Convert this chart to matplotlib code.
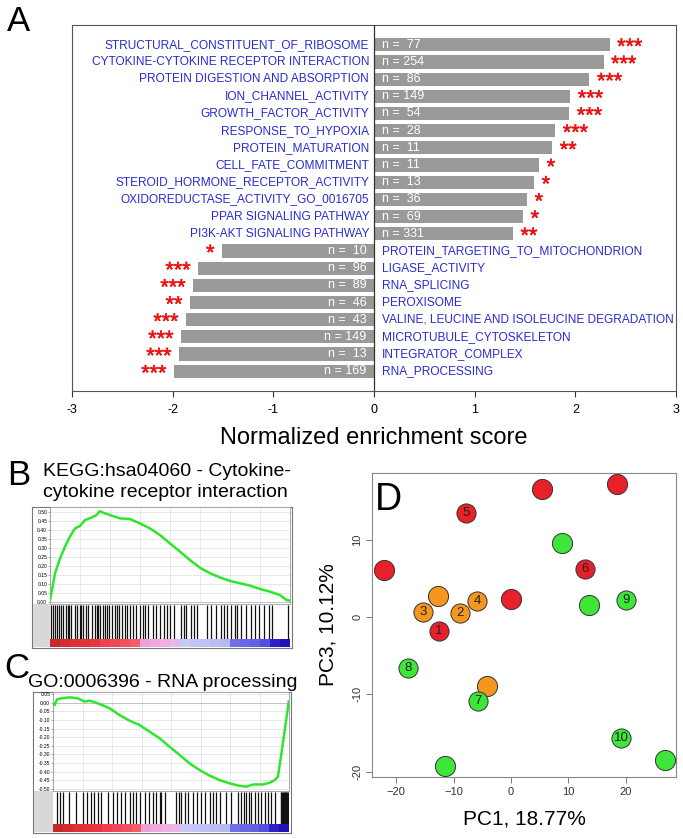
import matplotlib
matplotlib.use("Agg")
import matplotlib.pyplot as plt
import matplotlib.patheffects as pe
from matplotlib.colors import to_rgb
import numpy as np

W, H = 683, 838
plt.rcParams['font.family'] = ['Liberation Sans', 'DejaVu Sans']

# ---------------- Panel A data ----------------
terms = ["STRUCTURAL_CONSTITUENT_OF_RIBOSOME", "CYTOKINE-CYTOKINE RECEPTOR INTERACTION",
         "PROTEIN DIGESTION AND ABSORPTION", "ION_CHANNEL_ACTIVITY", "GROWTH_FACTOR_ACTIVITY",
         "RESPONSE_TO_HYPOXIA", "PROTEIN_MATURATION", "CELL_FATE_COMMITMENT",
         "STEROID_HORMONE_RECEPTOR_ACTIVITY", "OXIDOREDUCTASE_ACTIVITY_GO_0016705",
         "PPAR SIGNALING PATHWAY", "PI3K-AKT SIGNALING PATHWAY",
         "PROTEIN_TARGETING_TO_MITOCHONDRION", "LIGASE_ACTIVITY", "RNA_SPLICING", "PEROXISOME",
         "VALINE, LEUCINE AND ISOLEUCINE DEGRADATION", "MICROTUBULE_CYTOSKELETON",
         "INTEGRATOR_COMPLEX", "RNA_PROCESSING"]
nes = [2.34, 2.28, 2.14, 1.95, 1.94, 1.80, 1.77, 1.64, 1.59, 1.52, 1.48, 1.38,
       -1.51, -1.75, -1.80, -1.83, -1.87, -1.92, -1.94, -1.99]
set_sizes = [77, 254, 86, 149, 54, 28, 11, 11, 13, 36, 69, 331,
             10, 96, 89, 46, 43, 149, 13, 169]
stars = ["***", "***", "***", "***", "***", "***", "**", "*", "*", "*", "*", "**",
         "*", "***", "***", "**", "***", "***", "***", "***"]
nes_ticks = [-3, -2, -1, 0, 1, 2, 3]

# ---------------- Panel B / C data (rank position in %, running ES) ----------------
b_pos = [0, 0.7, 2.1, 4.2, 6.25, 8.3, 10.4, 12.5, 14.6, 17.4, 19.4, 20.6, 22.2, 25.0, 29.2,
         33.3, 37.5, 41.7, 45.8, 50.0, 54.2, 58.3, 62.5, 66.7, 70.8, 75.0, 79.2, 83.3, 87.5,
         91.7, 95.8, 98.6, 100]
b_es = [0.009, 0.056, 0.159, 0.243, 0.308, 0.364, 0.410, 0.424, 0.457, 0.472, 0.485, 0.506,
        0.498, 0.485, 0.466, 0.463, 0.438, 0.410, 0.373, 0.326, 0.280, 0.233, 0.190, 0.159,
        0.136, 0.116, 0.103, 0.090, 0.071, 0.056, 0.037, 0.009, 0.006]
b_hits = [0.5, 1.2, 1.9, 2.9, 3.7, 4.7, 5.4, 6.5, 7.5, 7.9, 8.9, 10.3, 11.2, 12.4, 13.1, 13.8,
          14.9, 15.8, 17.3, 18.7, 19.4, 20.0, 20.8, 21.9, 22.9, 23.8, 24.7, 25.7, 27.0, 28.0,
          28.8, 29.9, 31.2, 32.2, 33.3, 34.7, 35.8, 37.5, 38.7, 39.6, 41.0, 42.9, 44.2, 45.9,
          47.3, 48.7, 50.1, 51.5, 54.6, 55.7, 56.8, 58.8, 59.9, 61.3, 65.5, 66.9, 69.0, 71.1,
          72.5, 73.9, 75.3, 76.9, 78.1, 79.5, 81.6, 83.6, 85.3, 87.1, 89.2, 91.3, 92.7, 99.0]
c_pos = [0, 0.7, 1.7, 3.5, 7.1, 10.6, 13.4, 15.5, 19.8, 24.0, 28.2, 32.5, 36.7, 41.0, 45.2,
         49.4, 53.7, 57.9, 62.1, 66.4, 70.6, 74.9, 79.1, 81.9, 84.7, 89.0, 91.8, 93.9, 95.3,
         96.8, 98.2, 99.2, 99.9]
c_es = [-0.004, -0.014, 0.019, 0.025, 0.031, 0.025, 0.006, 0.012, -0.008, -0.033, -0.072,
        -0.105, -0.130, -0.169, -0.207, -0.256, -0.304, -0.353, -0.391, -0.424, -0.450,
        -0.469, -0.483, -0.488, -0.475, -0.475, -0.465, -0.450, -0.430, -0.295, -0.159,
        -0.062, 0.006]
c_hits = [1.7, 2.8, 4.2, 6.8, 9.9, 12.7, 14.2, 16.3, 17.2, 19.1, 20.5, 23.3, 25.4, 27.1,
          29.0, 30.4, 32.5, 33.9, 35.0, 36.7, 38.8, 40.7, 42.4, 43.8, 45.2, 45.9, 47.3, 52.3,
          53.4, 54.4, 55.8, 57.2, 59.3, 61.0, 62.9, 64.3, 66.4, 67.8, 69.2, 70.6, 73.5, 75.6,
          78.4, 79.8, 80.8, 81.9, 83.1, 84.1, 85.5, 86.9, 88.3, 89.7, 91.1, 92.5, 93.9, 96.5,
          96.8, 97.1, 97.4, 97.7, 98.0, 98.3, 98.6, 98.9, 99.2, 99.5, 99.8]
rank_colors = ["#c8282a", "#d42c30", "#de3036", "#e4323a", "#ea3440", "#ee4050", "#f04858",
               "#f25060", "#f45c68", "#f0a0d8", "#f0a8dc", "#eeb0e0", "#e6b8ea", "#c8c8f8",
               "#c4c4f6", "#c0c0f4", "#bcbcf4", "#b8b8f2", "#7070e8", "#6868e6", "#6060e4",
               "#5050de", "#3020c8", "#2010b8"]
es_ticks_b = [0.00, 0.05, 0.10, 0.15, 0.20, 0.25, 0.30, 0.35, 0.40, 0.45, 0.50]
es_ticks_c = [0.05, 0.00, -0.05, -0.10, -0.15, -0.20, -0.25, -0.30, -0.35, -0.40, -0.45, -0.50]

# ---------------- Panel D data ----------------
pc1 = [-12.8, -15.35, -8.84, -5.93, -4.13,
       -22.2, -7.85, 5.4, 18.5, 12.85, 0.0, -12.56,
       8.95, 13.7, 20.06, -18.0, -5.81, 19.24, -11.45, 26.8]
pc3 = [2.67, 0.65, 0.47, 2.11, -8.92,
       6.1, 13.45, 16.6, 17.2, 6.25, 2.37, -1.77,
       9.57, 1.51, 2.2, -6.64, -10.9, -15.69, -19.22, -18.53]
groups = ["orange"] * 5 + ["red"] * 7 + ["green"] * 8
point_labels = ["", "3", "2", "4", "",
                "", "5", "", "", "6", "", "1",
                "", "", "9", "8", "7", "10", "", ""]
group_colors = {"red": "#e8202a", "orange": "#f5961e", "green": "#3ee63a"}

fig = plt.figure(figsize=(W / 100, H / 100), dpi=100)


def add_px(x0, y0, x1, y1, **kw):
    return fig.add_axes([x0 / W, 1 - y1 / H, (x1 - x0) / W, (y1 - y0) / H], **kw)


def ftxt(x, y, s, **kw):
    return fig.text(x / W, 1 - y / H, s, **kw)


# ================= Panel A =================
blue = "#2a2ad2"
star_red = "#ee1111"
axA = add_px(72, 25, 676, 391)
rows = np.arange(len(terms))
axA.barh(rows, nes, height=0.77, color="#999999", edgecolor="none", zorder=2)
axA.set_xlim(-3, 3)
axA.set_ylim(len(terms) - 1 + 1.15, -1.15)
axA.axvline(0, color="#333333", lw=0.9, zorder=3)
axA.set_yticks([])
axA.set_xticks(nes_ticks)
axA.set_xticklabels([str(t) for t in nes_ticks])
axA.tick_params(axis="x", length=4.5, width=0.8, labelsize=9, pad=5, color="#333333")
for s in axA.spines.values():
    s.set_color("#555555")
    s.set_linewidth(0.8)
axA.set_xlabel("Normalized enrichment score", fontsize=17, labelpad=8)
fs_star = 15.5
star_dy = -0.40 * fs_star
star_fx = [pe.Stroke(linewidth=0.4, foreground=star_red), pe.Normal()]
for i, (t, v, n, st) in enumerate(zip(terms, nes, set_sizes, stars)):
    nlab = f"n = {n:3d}"
    if v > 0:
        axA.annotate(t, (0, i), xytext=(-3.5, 0), textcoords="offset points", ha="right",
                     va="center", color=blue, fontsize=8.6, zorder=4)
        axA.annotate(nlab, (0, i), xytext=(5.5, 0), textcoords="offset points", ha="left",
                     va="center", color="white", fontsize=9, zorder=4)
        axA.annotate(st, (v, i), xytext=(5.5, star_dy), textcoords="offset points",
                     ha="left", va="baseline", color=star_red, fontsize=fs_star,
                     path_effects=star_fx, zorder=4)
    else:
        axA.annotate(t, (0, i), xytext=(5.5, 0), textcoords="offset points", ha="left",
                     va="center", color=blue, fontsize=8.6, zorder=4)
        axA.annotate(nlab, (0, i), xytext=(-5.5, 0), textcoords="offset points", ha="right",
                     va="center", color="white", fontsize=9, zorder=4)
        axA.annotate(st, (v, i), xytext=(-5.5, star_dy), textcoords="offset points",
                     ha="right", va="baseline", color=star_red, fontsize=fs_star,
                     path_effects=star_fx, zorder=4)
ftxt(7, 31, "A", fontsize=25, va="baseline", ha="left")


# ================= Panels B, C =================
def gsea_panel(frame, plot_x0, curve_y1, bar_y1, pos, es, hits, ticks, ylim):
    fx0, fy0, fx1, fy1 = frame
    bg = add_px(fx0, fy0, fx1, fy1)
    bg.set_xticks([]); bg.set_yticks([])
    bg.set_facecolor("white")
    for s in bg.spines.values():
        s.set_color("#777777"); s.set_linewidth(0.8)
    strip = add_px(fx0 + 1, curve_y1, plot_x0, fy1 - 1)
    strip.set_facecolor("#d8d8d8")
    strip.set_xticks([]); strip.set_yticks([])
    for s in strip.spines.values():
        s.set_visible(False)
    plot_x1 = fx1 - 2
    axc = add_px(plot_x0, fy0, plot_x1, curve_y1)
    axc.plot(pos, es, color="#2ee62e", lw=1.8, zorder=3)
    axc.set_xlim(0, 100)
    axc.set_ylim(*ylim)
    axc.set_xticks(np.arange(0, 101, 12.5))
    axc.set_xticklabels([])
    axc.set_yticks(ticks)
    axc.set_yticklabels([f"{t:.2f}" for t in ticks])
    axc.tick_params(axis="y", length=1.2, width=0.4, labelsize=3.6, pad=0.8, color="#666666")
    axc.tick_params(axis="x", length=0)
    axc.grid(True, color="#e4e4e4", lw=0.6)
    axc.set_axisbelow(True)
    axc.axhline(0, color="#bbbbbb", lw=0.6, zorder=2)
    for s in axc.spines.values():
        s.set_color("#999999"); s.set_linewidth(0.6)
    axb = add_px(plot_x0, curve_y1 + 1, plot_x1, bar_y1)
    axb.vlines(hits, 0, 1, color="#111111", lw=0.9)
    axb.set_xlim(0, 100); axb.set_ylim(0, 1)
    axb.set_xticks([]); axb.set_yticks([])
    for s in axb.spines.values():
        s.set_visible(False)
    axr = add_px(plot_x0, bar_y1, plot_x1, fy1 - 1)
    img = np.array([[to_rgb(c) for c in rank_colors]])
    axr.imshow(img, aspect="auto", extent=(0, 100, 0, 1), interpolation="nearest")
    axr.set_xlim(0, 100)
    axr.set_xticks([]); axr.set_yticks([])
    for s in axr.spines.values():
        s.set_visible(False)


gsea_panel((32, 507, 292, 648), 50, 604, 639, b_pos, b_es, b_hits, es_ticks_b, (-0.013, 0.53))
gsea_panel((33, 692, 291, 833), 53, 791, 824, c_pos, c_es, c_hits, es_ticks_c, (-0.513, 0.062))

ftxt(7, 485, "B", fontsize=25, va="baseline", ha="left")
ftxt(43, 476, "KEGG:hsa04060 - Cytokine-", fontsize=14, va="baseline", ha="left")
ftxt(43, 497, "cytokine receptor interaction", fontsize=14, va="baseline", ha="left")
ftxt(4, 678, "C", fontsize=25, va="baseline", ha="left")
ftxt(28, 687, "GO:0006396 - RNA processing", fontsize=14, va="baseline", ha="left")

# ================= Panel D =================
axD = add_px(372, 473, 676, 777)
for x, y, g, lab in zip(pc1, pc3, groups, point_labels):
    size = 190 if lab else 210
    axD.scatter([x], [y], s=size, color=group_colors[g], edgecolor="#333333", linewidth=0.7,
                zorder=3)
    if lab:
        axD.text(x, y, lab, ha="center", va="center", fontsize=9.5, color="#222222", zorder=4)
axD.set_xlim(-24.24, 28.8)
axD.set_ylim(-20.69, 18.63)
axD.set_xticks([-20, -10, 0, 10, 20])
axD.set_yticks([-20, -10, 0, 10])
axD.set_yticklabels(["-20", "-10", "0", "10"], rotation=90, va="center")
axD.tick_params(labelsize=8, length=4, width=0.7, color="#777777", labelcolor="#333333", pad=3)
for s in axD.spines.values():
    s.set_color("#888888"); s.set_linewidth(0.8)
axD.set_xlabel("PC1, 18.77%", fontsize=15, labelpad=9)
axD.set_ylabel("PC3, 10.12%", fontsize=15, labelpad=11)
axD.text(0.01, 0.97, "D", transform=axD.transAxes, fontsize=27, ha="left", va="top")

fig.savefig("out.png", dpi=100)
